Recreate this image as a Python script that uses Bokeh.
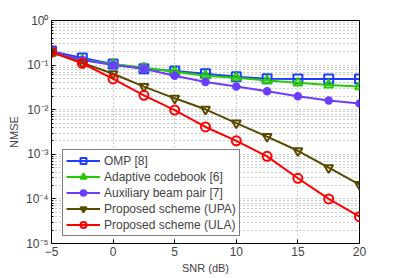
from bokeh.plotting import figure
from bokeh.models import (Legend, LegendItem, FixedTicker, CustomJSTickFormatter, Range1d)
from bokeh.embed import file_html
from bokeh.resources import INLINE

snr = [-5, -2.5, 0, 2.5, 5, 7.5, 10, 12.5, 15, 17.5, 20]
omp = [0.206, 0.144, 0.106, 0.083, 0.074, 0.064, 0.055, 0.0495, 0.049, 0.049, 0.049]
adaptive = [0.186, 0.13, 0.106, 0.087, 0.071, 0.058, 0.052, 0.045, 0.040, 0.036, 0.033]
aux = [0.206, 0.13, 0.101, 0.083, 0.058, 0.042, 0.033, 0.026, 0.020, 0.016, 0.0138]
upa = [0.196, 0.112, 0.064, 0.033, 0.018, 0.0102, 0.005, 0.0025, 0.0012, 0.0005, 0.00021]
ula = [0.196, 0.11, 0.049, 0.021, 0.0098, 0.0041, 0.002, 0.0009, 0.00029, 0.0001, 0.00004]
x_ticks = [-5, 0, 5, 10, 15, 20]
y_ticks = [1e-5, 1e-4, 1e-3, 1e-2, 1e-1, 1e0]
names = ["OMP [8]", "Adaptive codebook [6]", "Auxiliary beam pair [7]",
         "Proposed scheme (UPA)", "Proposed scheme (ULA)"]

FONT = "Liberation Sans"

p = figure(width=390, height=276, output_backend="svg", toolbar_location=None,
           y_axis_type="log", x_range=Range1d(-5, 20), y_range=Range1d(1e-5, 1),
           min_border_left=51, min_border_right=31, min_border_top=20, min_border_bottom=30)
p.outline_line_color = "black"
p.outline_line_width = 1

sup = CustomJSTickFormatter(code="""
const e = Math.round(Math.log10(tick));
const m = {'-':'\u207B','0':'\u2070','1':'\u00B9','2':'\u00B2','3':'\u00B3','4':'\u2074','5':'\u2075'};
return '10' + String(e).split('').map(c => m[c]).join('');
""")

p.yaxis.ticker = FixedTicker(ticks=y_ticks,
                             minor_ticks=[k * 10.0 ** e for e in range(-5, 0) for k in range(2, 10)])
p.yaxis.formatter = sup
p.xaxis.ticker = FixedTicker(ticks=x_ticks)
for ax in (p.xaxis[0], p.yaxis[0]):
    ax.major_tick_in = 4
    ax.major_tick_out = 0
    ax.minor_tick_in = 2
    ax.minor_tick_out = 0
    ax.major_label_text_font = FONT
    ax.major_label_text_font_size = "12px"
    ax.axis_label_text_font = FONT
    ax.axis_label_text_font_size = "11px"
    ax.axis_label_text_font_style = "normal"
    ax.axis_line_color = "black"
    ax.major_label_standoff = 3
    ax.axis_label_standoff = 3
p.xaxis.axis_label = "SNR (dB)"
p.yaxis.axis_label = "NMSE"

p.xgrid.ticker = FixedTicker(ticks=x_ticks)
p.xgrid.grid_line_color = "#999999"
p.xgrid.grid_line_dash = "1 3"
p.ygrid.grid_line_color = "#999999"
p.ygrid.grid_line_dash = "1 3"
p.ygrid.minor_grid_line_color = "#999999"
p.ygrid.minor_grid_line_dash = "1 3"

items = []
cols = ["#1f3fff", "#22cc00", "#6a3dff", "#5a4a00", "#ff0000"]
series = [omp, adaptive, aux, upa, ula]
markers = ["square", "triangle", "circle", "inverted_triangle", "circle"]
for name, ys, c, m in zip(names, series, cols, markers):
    r1 = p.line(snr, ys, line_color=c, line_width=2)
    if name.startswith("Auxiliary"):
        r2 = p.scatter(snr, ys, marker=m, size=7, line_color=c, fill_color=c, line_width=1.5)
    else:
        r2 = p.scatter(snr, ys, marker=m, size=9, line_color=c, fill_color=None, line_width=2)
    items.append(LegendItem(label=name, renderers=[r1, r2]))

leg = Legend(items=items, location=(11, 7), label_text_font=FONT, label_text_font_size="12px",
             glyph_width=34, glyph_height=15, label_height=15, spacing=1, padding=3, margin=0,
             border_line_color="black", border_line_width=1, background_fill_alpha=1,
             label_standoff=4)
p.add_layout(leg)

open("out.html", "w").write(file_html(p, INLINE))
